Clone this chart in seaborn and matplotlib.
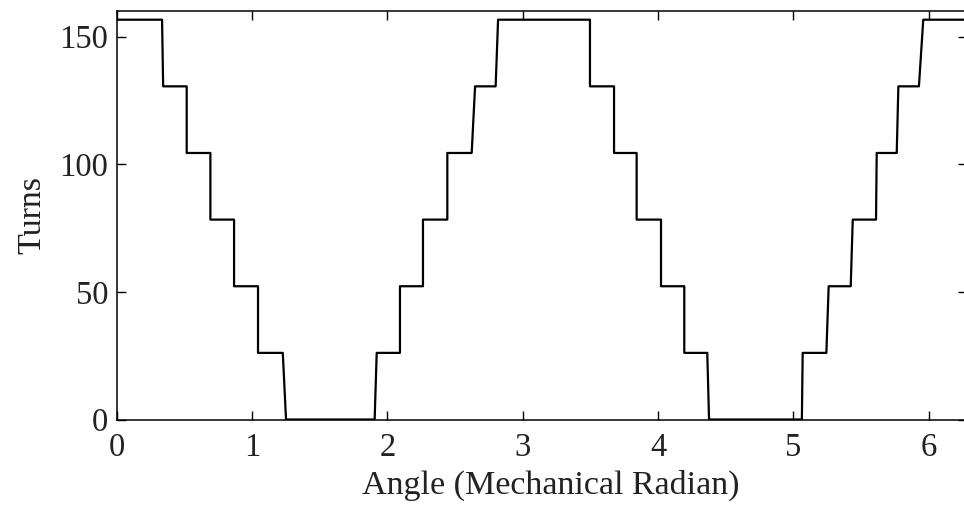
import numpy as np
import pandas as pd
import matplotlib
matplotlib.use("Agg")
import matplotlib.pyplot as plt
import seaborn as sns

# Vertices of the winding-turns step curve (angle in mechanical radians, turns)
angle = [0.000, 0.335, 0.343, 0.517, 0.517, 0.692, 0.692, 0.867, 0.867, 1.044, 1.044,
         1.227, 1.251, 1.906, 1.921, 2.093, 2.093, 2.263, 2.263, 2.443, 2.443,
         2.623, 2.648, 2.800, 2.818, 3.497, 3.497, 3.675, 3.675, 3.842, 3.842,
         4.022, 4.022, 4.194, 4.194, 4.364, 4.377, 5.063, 5.069, 5.244, 5.261,
         5.424, 5.439, 5.611, 5.616, 5.764, 5.776, 5.928, 5.960, 6.2832]
turns = [156.6, 156.6, 130.5, 130.5, 104.4, 104.4, 78.3, 78.3, 52.2, 52.2, 26.1,
         26.1, 0.0, 0.0, 26.1, 26.1, 52.2, 52.2, 78.3, 78.3, 104.4,
         104.4, 130.5, 130.5, 156.6, 156.6, 130.5, 130.5, 104.4, 104.4, 78.3,
         78.3, 52.2, 52.2, 26.1, 26.1, 0.0, 0.0, 26.1, 26.1, 52.2,
         52.2, 78.3, 78.3, 104.4, 104.4, 130.5, 130.5, 156.6, 156.6]

x_ticks = [0, 1, 2, 3, 4, 5, 6]
y_ticks = [0, 50, 100, 150]

df = pd.DataFrame({"angle": angle, "turns": turns})

sns.set_theme(style="white")
plt.rcParams["font.family"] = ["Liberation Serif", "DejaVu Serif"]

fig = plt.figure(figsize=(9.64, 5.08), dpi=100)
ax = fig.add_axes([0.1211, 0.1742, 0.882, 0.8041])

sns.lineplot(data=df, x="angle", y="turns", ax=ax, estimator=None, sort=False,
             color="black", linewidth=1.6)

ax.set_xlim(0, 2 * np.pi)
ax.set_ylim(0, 160)
ax.set_xticks(x_ticks)
ax.set_yticks(y_ticks)
ax.set_xticklabels([str(t) for t in x_ticks])
ax.set_yticklabels([str(t) for t in y_ticks])

ax.tick_params(axis="both", direction="in", length=6.5, width=1.0, color="black",
               labelsize=23.5, labelcolor="#222222", top=True, right=True,
               bottom=True, left=True)
ax.tick_params(axis="x", pad=9.5)
ax.tick_params(axis="y", pad=6)

for s in ax.spines.values():
    s.set_color("black")
    s.set_linewidth(1.1)
    s.set_visible(True)

ax.set_xlabel("Angle (Mechanical Radian)", fontsize=24.5, color="#222222", labelpad=5)
ax.xaxis.label.set_x(0.511)
ax.set_ylabel("Turns", fontsize=24.5, color="#222222", labelpad=9)

fig.savefig("out.png", dpi=100, facecolor="white")
